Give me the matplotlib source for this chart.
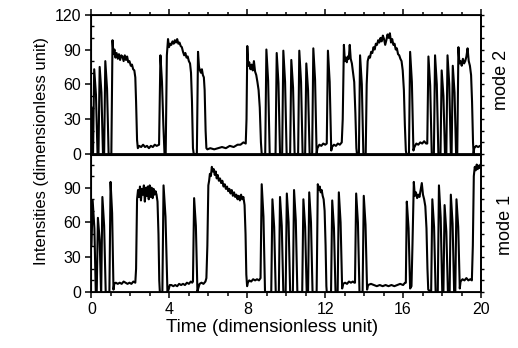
import matplotlib
matplotlib.use("Agg")
import matplotlib.pyplot as plt
from matplotlib.ticker import MultipleLocator

plt.rcParams['font.family'] = ['Liberation Sans', 'DejaVu Sans']

# ---- data: time and intensity vertices of each trace ----
# mode 2 (upper panel)
t_mode2 = [0.00, 0.05, 0.08, 0.14, 0.23, 0.31, 0.36, 0.42, 0.51, 0.59, 0.65, 0.71, 0.80, 0.88,
           1.02, 1.08, 1.13, 1.18, 1.23, 1.29, 1.35, 1.41, 1.47, 1.53, 1.59, 1.65, 1.71, 1.77, 1.83, 1.89, 1.95, 2.02, 2.08, 2.14, 2.20, 2.25, 2.29, 2.34, 2.38,
           2.45, 2.55, 2.65, 2.75, 2.85, 2.95, 3.05, 3.15, 3.25, 3.35, 3.47, 3.54, 3.62, 3.69, 3.75,
           3.81, 3.87, 3.93, 3.98, 4.04, 4.10, 4.16, 4.22, 4.28, 4.34, 4.40, 4.46, 4.52, 4.58, 4.64, 4.70, 4.76, 4.82, 4.88, 4.94, 5.00, 5.06, 5.11, 5.16, 5.21, 5.25,
           5.41, 5.47, 5.52, 5.57, 5.62, 5.67, 5.72, 5.77, 5.81, 5.86, 5.90,
           5.95, 6.10, 6.30, 6.50, 6.70, 6.90, 7.10, 7.30, 7.50, 7.65, 7.80, 7.92,
           7.96, 8.00, 8.05, 8.10, 8.16, 8.22, 8.28, 8.34, 8.40, 8.46, 8.52, 8.58, 8.64, 8.70, 8.74,
           8.92, 8.98, 9.07, 9.15, 9.45, 9.51, 9.60, 9.68, 9.79, 9.85, 9.94, 10.02,
           10.20, 10.26, 10.35, 10.43, 10.61, 10.67, 10.76, 10.84, 10.97, 11.03, 11.12, 11.20, 11.33, 11.39, 11.48, 11.56,
           11.60, 11.70, 11.80, 11.90, 12.00, 12.08, 12.14, 12.23, 12.31, 12.35, 12.45, 12.55, 12.65, 12.75, 12.85,
           12.90, 12.96, 13.01, 13.06, 13.11, 13.16, 13.21, 13.26, 13.31, 13.37, 13.43, 13.49, 13.55, 13.60, 13.63, 13.73, 13.79, 13.88, 13.96,
           14.08, 14.13, 14.18, 14.24, 14.30, 14.36, 14.42, 14.48, 14.54, 14.60, 14.66, 14.72, 14.78, 14.84, 14.90, 14.96, 15.02, 15.08, 15.14, 15.20,
           15.26, 15.32, 15.38, 15.44, 15.50, 15.56, 15.62, 15.68, 15.74, 15.80, 15.86, 15.92, 15.98, 16.04, 16.09, 16.14, 16.17,
           16.30, 16.36, 16.45, 16.53, 16.58, 16.68, 16.78, 16.88, 16.98, 17.08, 17.18,
           17.24, 17.30, 17.39, 17.47, 17.58, 17.64, 17.73, 17.81, 17.92, 17.98, 18.07, 18.15, 18.22, 18.28, 18.37, 18.45, 18.49, 18.55, 18.64, 18.72,
           18.78, 18.84, 18.89, 18.95, 19.01, 19.07, 19.13, 19.19, 19.25, 19.31, 19.37, 19.43, 19.49, 19.54, 19.59, 19.62, 19.65, 19.75, 19.85, 19.95, 20.00]
i_mode2 = [40, 0, 0, 73, 51, 0, 0, 75, 53, 0, 0, 80, 56, 0,
           0, 98, 86, 90, 83, 87, 82, 86, 81, 85, 84, 80, 85, 81, 84, 79, 80, 76, 77, 73, 72, 66, 45, 12, 5,
           7, 6, 8, 6, 7, 5, 7, 6, 8, 7, 8, 85, 62, 25, 0,
           0, 85, 99, 92, 95, 94, 97, 95, 98, 96, 99, 95, 96, 93, 92, 88, 85, 87, 83, 84, 80, 78, 70, 45, 5, 0,
           0, 88, 75, 72, 70, 73, 68, 66, 55, 20, 5,
           4, 5, 4, 5, 6, 5, 7, 6, 8, 8, 10, 9,
           30, 93, 76, 79, 73, 77, 72, 80, 71, 68, 62, 55, 40, 10, 0,
           0, 90, 63, 0, 0, 87, 61, 0, 0, 89, 62, 0,
           0, 81, 57, 0, 0, 89, 62, 0, 0, 78, 55, 0, 0, 91, 64, 0,
           5, 8, 7, 9, 8, 9, 89, 62, 3, 6, 8, 7, 9, 8, 10,
           30, 94, 80, 83, 79, 84, 82, 94, 82, 78, 70, 62, 35, 5, 0, 0, 85, 60, 0,
           0, 60, 80, 84, 83, 88, 87, 92, 90, 95, 94, 98, 96, 100, 97, 102, 99, 94, 98, 103,
           100, 104, 96, 99, 94, 95, 90, 91, 86, 85, 82, 80, 72, 55, 25, 3, 0,
           0, 88, 62, 3, 6, 9, 8, 10, 9, 11, 9,
           9, 84, 59, 0, 0, 85, 60, 0, 0, 72, 50, 0, 0, 85, 60, 0, 0, 76, 53, 0,
           0, 92, 78, 80, 76, 82, 78, 80, 84, 91, 80, 76, 68, 45, 10, 0, 5, 7, 6, 7, 6]

# mode 1 (lower panel)
t_mode1 = [0.00, 0.06, 0.15, 0.22, 0.27, 0.33, 0.42, 0.49, 0.50, 0.56, 0.65, 0.73, 0.92, 0.98, 1.06, 1.13,
           1.17, 1.25, 1.35, 1.45, 1.55, 1.65, 1.75, 1.85, 1.95, 2.05, 2.15, 2.25,
           2.29, 2.34, 2.39, 2.44, 2.49, 2.54, 2.59, 2.64, 2.69, 2.74, 2.79, 2.84, 2.89, 2.94, 2.99, 3.04, 3.09, 3.14, 3.19, 3.24, 3.29, 3.34, 3.39, 3.44, 3.48, 3.51,
           3.64, 3.70, 3.80, 3.90, 3.96, 4.02, 4.10, 4.20, 4.30, 4.40, 4.50, 4.60, 4.70, 4.80, 4.90, 5.00, 5.10, 5.17,
           5.21, 5.27, 5.36, 5.44, 5.48, 5.55, 5.65, 5.75, 5.85, 5.90,
           5.95, 6.00, 6.04, 6.08, 6.13, 6.18, 6.23, 6.28, 6.33, 6.38, 6.43, 6.48, 6.54, 6.60, 6.66, 6.72, 6.78, 6.84, 6.90, 6.96,
           7.02, 7.08, 7.14, 7.20, 7.26, 7.32, 7.38, 7.44, 7.50, 7.56, 7.62, 7.68, 7.74, 7.80, 7.86, 7.91, 7.95, 7.99,
           8.03, 8.10, 8.20, 8.30, 8.40, 8.50, 8.60, 8.68, 8.74, 8.83, 8.91,
           9.23, 9.29, 9.38, 9.46, 9.62, 9.68, 9.77, 9.85, 9.97, 10.03, 10.12, 10.20, 10.34, 10.40, 10.49, 10.57,
           10.82, 10.88, 10.97, 11.05, 11.12, 11.18, 11.27, 11.35,
           11.56, 11.62, 11.67, 11.72, 11.77, 11.82, 11.87, 11.92, 11.97, 12.02, 12.06, 12.08,
           12.30, 12.36, 12.45, 12.53, 12.64, 12.70, 12.79, 12.87, 12.92, 13.02, 13.12, 13.22, 13.32, 13.42, 13.50,
           13.53, 13.59, 13.68, 13.76, 13.92, 13.98, 14.07, 14.15,
           14.20, 14.35, 14.50, 14.65, 14.80, 14.95, 15.10, 15.25, 15.40, 15.55, 15.70, 15.85, 16.00, 16.10,
           16.14, 16.19, 16.28, 16.36, 16.43, 16.48, 16.55, 16.60, 16.66, 16.72, 16.78, 16.84, 16.90, 16.96, 17.02, 17.08, 17.14, 17.20, 17.25, 17.29,
           17.44, 17.50, 17.59, 17.67, 17.78, 17.84, 17.93, 18.01, 18.07, 18.13, 18.22, 18.30, 18.39, 18.45, 18.54, 18.62, 18.68, 18.74, 18.83, 18.91,
           18.95, 19.05, 19.15, 19.25, 19.35, 19.45, 19.53, 19.58, 19.63, 19.68, 19.73, 19.78, 19.83, 19.88, 19.93, 19.97, 20.00]
i_mode1 = [40, 79, 55, 0, 0, 64, 45, 0, 0, 82, 57, 0, 0, 95, 68, 2,
           7, 8, 7, 8, 7, 9, 8, 7, 8, 7, 9, 8,
           20, 80, 88, 82, 91, 79, 89, 84, 92, 78, 90, 83, 91, 80, 92, 82, 90, 81, 89, 84, 87, 84, 78, 50, 10, 0,
           0, 92, 65, 0, 2, 6, 6, 5, 6, 5, 7, 6, 7, 6, 8, 7, 9, 8,
           9, 81, 57, 0, 3, 7, 8, 7, 9, 12,
           40, 92, 96, 102, 100, 108, 104, 106, 101, 104, 98, 101, 96, 98, 94, 96, 91, 93, 89, 91,
           87, 89, 85, 88, 83, 86, 82, 84, 80, 83, 79, 84, 80, 82, 75, 50, 15, 5,
           8, 10, 9, 11, 10, 11, 10, 12, 93, 65, 0,
           0, 80, 56, 0, 0, 82, 57, 0, 0, 85, 60, 0, 0, 88, 62, 0,
           0, 80, 56, 0, 0, 86, 60, 0,
           0, 93, 88, 91, 86, 88, 83, 80, 70, 40, 5, 0,
           0, 79, 55, 0, 0, 86, 60, 3, 7, 8, 7, 9, 8, 9, 8,
           8, 85, 60, 0, 0, 83, 58, 2,
           6, 7, 6, 5, 6, 5, 6, 5, 6, 5, 6, 7, 6, 8,
           8, 78, 55, 3, 5, 40, 95, 83, 86, 81, 84, 82, 88, 94, 84, 80, 74, 55, 20, 2,
           0, 80, 56, 0, 0, 92, 64, 0, 0, 75, 52, 0, 0, 84, 59, 0, 0, 80, 56, 3,
           9, 11, 10, 12, 10, 11, 10, 40, 100, 108, 105, 110, 106, 109, 107, 110, 108]

y_ticks = [0, 30, 60, 90, 120]
x_ticks = [0, 4, 8, 12, 16, 20]

# ---- figure ----
fig = plt.figure(figsize=(5.18, 3.48), dpi=100)

ax_top = fig.add_axes([0.1766, 0.5575, 0.752, 0.4003])
ax_bot = fig.add_axes([0.1766, 0.1610, 0.752, 0.3945])

panels = [(ax_top, t_mode2, i_mode2, 120), (ax_bot, t_mode1, i_mode1, 118.5)]

for ax, t, y, ytop in panels:
    ax.plot(t, y, color='black', lw=1.5, solid_joinstyle='round')
    ax.set_xlim(0, 20)
    ax.set_ylim(0, ytop)
    for s in ax.spines.values():
        s.set_linewidth(1.3)
    ax.yaxis.set_major_locator(MultipleLocator(30))
    ax.yaxis.set_minor_locator(MultipleLocator(10))
    ax.xaxis.set_major_locator(MultipleLocator(4))
    ax.xaxis.set_minor_locator(MultipleLocator(1))
    ax.tick_params(axis='y', which='major', direction='out', length=4.5, width=1.1,
                   labelsize=11.5, pad=3, right=False)
    ax.tick_params(axis='y', which='minor', direction='in', length=2.5, width=1.0, right=False)

    # right-hand ticks go outwards, without labels
    twin = ax.twinx()
    twin.set_ylim(0, ytop)
    twin.yaxis.set_major_locator(MultipleLocator(30))
    twin.yaxis.set_minor_locator(MultipleLocator(10))
    twin.tick_params(axis='y', which='both', direction='out', length=2.5, width=1.0, labelright=False)
    twin.spines['right'].set_linewidth(1.3)

ax_top.set_yticks(y_ticks)
ax_bot.set_yticks(y_ticks[:-1])

# x ticks: upper panel only on top, lower panel only at the bottom
ax_top.tick_params(axis='x', which='both', direction='out', bottom=False, top=True,
                   labelbottom=False, width=1.1)
ax_top.tick_params(axis='x', which='major', length=4)
ax_top.tick_params(axis='x', which='minor', length=2.5)

ax_bot.set_xticks(x_ticks)
ax_bot.tick_params(axis='x', which='both', direction='out', top=False, bottom=True, width=1.1)
ax_bot.tick_params(axis='x', which='major', length=4.5, labelsize=11.5, pad=2.5)
ax_bot.tick_params(axis='x', which='minor', length=3)

# labels
fig.text(272 / 518, 1 - 327 / 348, 'Time (dimensionless unit)', ha='center', va='center', fontsize=13.5)
fig.text(42 / 518, 1 - 151 / 348, 'Intensities (dimensionless unit)', ha='center', va='center',
         rotation=90, fontsize=12)
fig.text(502 / 518, 1 - 80 / 348, 'mode 2', ha='center', va='center', rotation=90, fontsize=13)
fig.text(505 / 518, 1 - 225 / 348, 'mode 1', ha='center', va='center', rotation=90, fontsize=13)

fig.savefig('out.png', dpi=100)
